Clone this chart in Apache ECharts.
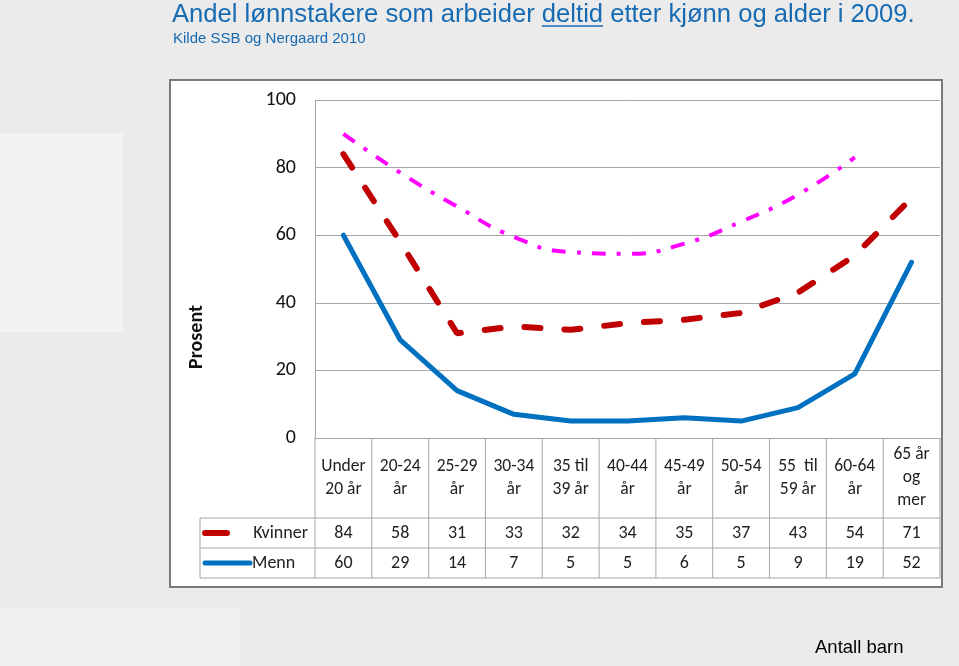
<!DOCTYPE html>
<html><head><meta charset="utf-8">
<script src="https://cdn.jsdelivr.net/npm/echarts@6/dist/echarts.min.js"></script>
<style>html,body{margin:0;padding:0;background:#ebebeb;}#c{width:959px;height:666px;}</style>
</head><body><div id="c"></div>
<script>
const categories = ["Under\n20 år","20-24\når","25-29\når","30-34\når","35 til\n39 år","40-44\når","45-49\når","50-54\når","55  til\n59 år","60-64\når","65 år\nog\nmer"];
const kvinner = [84,58,31,33,32,34,35,37,43,54,71];
const menn = [60,29,14,7,5,5,6,5,9,19,52];
const trend = [90,78.5,68.5,59.5,55,54.5,57.5,64,72,83,null];
const yMin = 0, yMax = 100, yStep = 20;
const seriesNames = ["Kvinner","Menn"];

const FONT = "Carlito, Lato, 'Open Sans', sans-serif";
const TITLE_FONT = "'Liberation Sans', Arial, sans-serif";
const blue = "#176bb3";
const red = "#c00000";
const mblue = "#0070c0";

const chart = echarts.init(document.getElementById('c'), null, {renderer:'canvas'});
const grid = {left:315, right:19, top:100, bottom:228};

chart.setOption({
  backgroundColor:'#ebebeb',
  animation:false,
  grid: grid,
  xAxis: {type:'category', data:categories, boundaryGap:true,
    axisLine:{show:true, lineStyle:{color:'#a6a6a6', width:1}},
    axisTick:{show:false}, axisLabel:{show:false}, splitLine:{show:false}},
  yAxis: {type:'value', min:yMin, max:yMax, interval:yStep,
    axisLine:{show:true, lineStyle:{color:'#a6a6a6', width:1}},
    axisTick:{show:false},
    axisLabel:{color:'#111', fontSize:20, fontFamily:FONT, margin:19},
    splitLine:{lineStyle:{color:'#a6a6a6', width:1}}},
  series: [
    {name:'trend', type:'line', data:trend, smooth:0.5, symbol:'none', z:3,
      lineStyle:{color:'#ff00ff', width:4, type:[14,11,4,11], cap:'butt'}},
    {name:seriesNames[0], type:'line', data:kvinner, symbol:'none', z:4,
      lineStyle:{color:red, width:6, type:[16,24], cap:'round'}},
    {name:seriesNames[1], type:'line', data:menn, symbol:'none', z:5,
      lineStyle:{color:mblue, width:5, cap:'round', join:'round'}}
  ]
});

const cv = document.createElement('canvas').getContext('2d');
const tSize = 25.6;
const tFont = tSize + "px " + TITLE_FONT;
cv.font = tFont;
const t1 = "Andel lønnstakere som arbeider ";
const t2 = "deltid";
const t3 = " etter kjønn og alder i 2009.";
const w1 = cv.measureText(t1).width, w2 = cv.measureText(t2).width;
const tx = 172, tyTop = 2;

const x0 = chart.convertToPixel({xAxisIndex:0}, 0);
const x1 = chart.convertToPixel({xAxisIndex:0}, 1);
const bw = x1 - x0;
const yBase = chart.convertToPixel({yAxisIndex:0}, 0);
const gridLeft = grid.left;
const gridRight = 959 - grid.right;
const headH = 80, rowH = 30;
const tableLeft = gridLeft - 115;
const lineColor = '#a6a6a6';

const g = [];
g.push({type:'rect', shape:{x:0,y:133,width:123,height:199}, style:{fill:'#f2f2f2'}, z:-20});
g.push({type:'rect', shape:{x:0,y:607,width:240,height:59}, style:{fill:'#efefef'}, z:-20});
g.push({type:'rect', shape:{x:170,y:80,width:772,height:507}, style:{fill:'#fff', stroke:'#7a7a7a', lineWidth:2}, z:-10});
g.push({type:'text', x:tx, y:tyTop, style:{text:t1+t2+t3, font:tFont, fill:blue, textVerticalAlign:'top'}, z:10});
g.push({type:'line', shape:{x1:tx+w1, y1:26, x2:tx+w1+w2, y2:26}, style:{stroke:blue, lineWidth:1.5}, z:10});
g.push({type:'text', x:173, y:31, style:{text:"Kilde SSB og Nergaard 2010", font:"15px "+TITLE_FONT, fill:blue, textVerticalAlign:'top'}, z:10});
g.push({type:'text', x:815, y:638, style:{text:"Antall barn", font:"18.5px 'Liberation Sans Narrow', 'Liberation Sans', Arial", fill:'#000', textVerticalAlign:'top'}, z:10});
g.push({type:'text', x:197, y:337, rotation:Math.PI/2, style:{text:"Prosent", font:"bold 20px "+FONT, fill:'#111', textAlign:'center', textVerticalAlign:'middle'}, z:10});

const yR1 = yBase + headH, yR2 = yR1 + rowH, yR3 = yR2 + rowH;
for (let i = 0; i <= categories.length; i++) {
  const xb = x0 - bw/2 + i*bw;
  g.push({type:'line', shape:{x1:xb,y1:yBase,x2:xb,y2:yR3}, style:{stroke:lineColor, lineWidth:1}, z:1});
}
[yR1, yR2, yR3].forEach(yy => g.push({type:'line', shape:{x1:tableLeft,y1:yy,x2:gridRight,y2:yy}, style:{stroke:lineColor, lineWidth:1}, z:1}));
g.push({type:'line', shape:{x1:tableLeft,y1:yR1,x2:tableLeft,y2:yR3}, style:{stroke:lineColor, lineWidth:1}, z:1});

categories.forEach((c, i) => {
  const cx = chart.convertToPixel({xAxisIndex:0}, i);
  g.push({type:'text', x:cx, y:yBase + headH/2, style:{text:c, font:"17.5px "+FONT, fill:'#222', textAlign:'center', textVerticalAlign:'middle', lineHeight:23}, z:10});
  g.push({type:'text', x:cx, y:yR1 + rowH/2, style:{text:String(kvinner[i]), font:"18px "+FONT, fill:'#222', textAlign:'center', textVerticalAlign:'middle'}, z:10});
  g.push({type:'text', x:cx, y:yR2 + rowH/2, style:{text:String(menn[i]), font:"18px "+FONT, fill:'#222', textAlign:'center', textVerticalAlign:'middle'}, z:10});
});
g.push({type:'line', shape:{x1:tableLeft+5,y1:yR1+rowH/2,x2:tableLeft+27,y2:yR1+rowH/2}, style:{stroke:red, lineWidth:6, lineCap:'round'}, z:10});
g.push({type:'text', x:gridLeft-7, y:yR1+rowH/2, style:{text:seriesNames[0], font:"18px "+FONT, fill:'#222', textAlign:'right', textVerticalAlign:'middle'}, z:10});
g.push({type:'line', shape:{x1:tableLeft+5,y1:yR2+rowH/2,x2:tableLeft+50,y2:yR2+rowH/2}, style:{stroke:mblue, lineWidth:5, lineCap:'round'}, z:10});
g.push({type:'text', x:tableLeft+52, y:yR2+rowH/2, style:{text:seriesNames[1], font:"18px "+FONT, fill:'#222', textAlign:'left', textVerticalAlign:'middle'}, z:10});

chart.setOption({graphic:{elements:g}});
</script></body></html>
